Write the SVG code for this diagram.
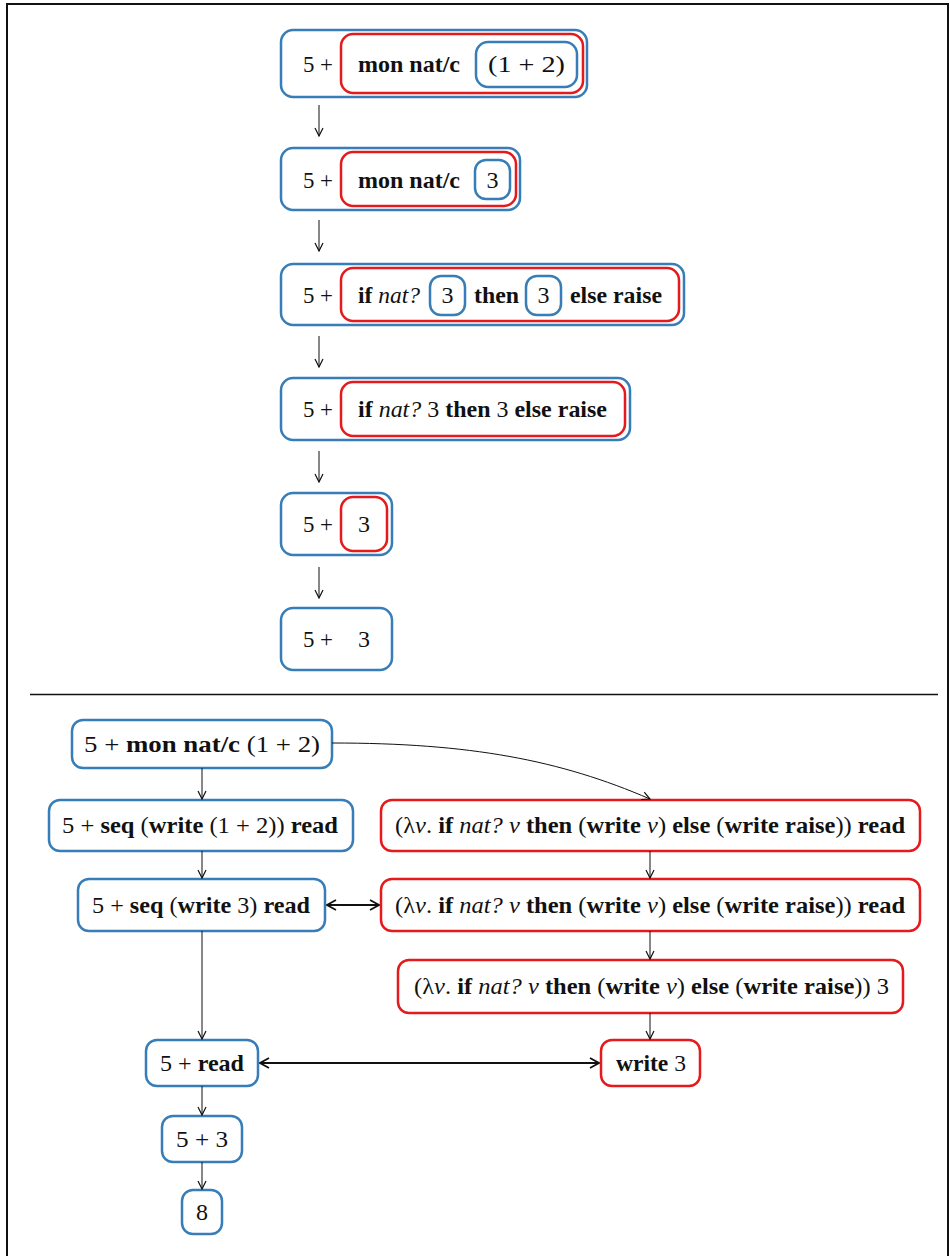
<svg xmlns="http://www.w3.org/2000/svg" width="950" height="1256" viewBox="0 0 950 1256">
<style>
.t{font-size:24px;fill:#111;}
.b{font-weight:bold;}
.i{font-style:italic;}
.bl{fill:none;stroke:#377eb8;stroke-width:2.5;}
.rd{fill:none;stroke:#e41a1c;stroke-width:2.5;}
.c{fill:none;stroke:#111;stroke-width:1;}
.c2{fill:none;stroke:#111;stroke-width:2;}
.frame{fill:none;stroke:#111;stroke-width:2;}
</style>
<defs>
<marker id="ah" viewBox="0 0 10 10" refX="9" refY="5" markerWidth="10" markerHeight="10" markerUnits="userSpaceOnUse" orient="auto-start-reverse">
<path d="M1,1 L9,5 L1,9" fill="none" stroke="#111" stroke-width="1.2"/>
</marker>
<marker id="ah2" viewBox="0 0 12 12" refX="11" refY="6" markerWidth="12" markerHeight="12" markerUnits="userSpaceOnUse" orient="auto-start-reverse">
<path d="M2,1 L11,6 L2,11" fill="none" stroke="#111" stroke-width="1.8"/>
</marker>
</defs>
<rect x="7" y="4" width="941" height="1260" class="frame"/>
<line x1="30" y1="694.5" x2="938" y2="694.5" stroke="#111" stroke-width="1.5"/>

<g font-family="Liberation Serif, Tinos, Times New Roman, Times, DejaVu Serif, serif">
<!-- top section -->
<g id="s1">
<rect x="281" y="30" width="306" height="67" rx="12" class="bl"/>
<rect x="341" y="34" width="242" height="59" rx="12" class="rd"/>
<rect x="476" y="42" width="101" height="45" rx="12" class="bl"/>
<text x="303" y="72" class="t" textLength="30" lengthAdjust="spacingAndGlyphs">5 +</text>
<text x="358" y="72" class="t b" textLength="102" lengthAdjust="spacingAndGlyphs">mon nat/c</text>
<text x="488" y="72" class="t" textLength="77" lengthAdjust="spacingAndGlyphs">(1 + 2)</text>
</g>
<g id="s2">
<rect x="281" y="148" width="239" height="62" rx="12" class="bl"/>
<rect x="341" y="152" width="175" height="54" rx="12" class="rd"/>
<rect x="475" y="160" width="35" height="39" rx="11" class="bl"/>
<text x="303" y="188" class="t" textLength="30" lengthAdjust="spacingAndGlyphs">5 +</text>
<text x="358" y="188" class="t b" textLength="102" lengthAdjust="spacingAndGlyphs">mon nat/c</text>
<text x="492.5" y="188" class="t" text-anchor="middle">3</text>
</g>
<g id="s3">
<rect x="281" y="264" width="403" height="61" rx="12" class="bl"/>
<rect x="341" y="268" width="338" height="53" rx="12" class="rd"/>
<rect x="430" y="276" width="35" height="39" rx="11" class="bl"/>
<rect x="526" y="276" width="35" height="39" rx="11" class="bl"/>
<text x="303" y="303" class="t" textLength="30" lengthAdjust="spacingAndGlyphs">5 +</text>
<text x="358" y="303" class="t" textLength="62" lengthAdjust="spacingAndGlyphs"><tspan class="b">if</tspan> <tspan class="i">nat?</tspan></text>
<text x="447.5" y="303" class="t" text-anchor="middle">3</text>
<text x="474" y="303" class="t b" textLength="45" lengthAdjust="spacingAndGlyphs">then</text>
<text x="543.5" y="303" class="t" text-anchor="middle">3</text>
<text x="570" y="303" class="t b" textLength="92" lengthAdjust="spacingAndGlyphs">else raise</text>
</g>
<g id="s4">
<rect x="281" y="378" width="349" height="62" rx="12" class="bl"/>
<rect x="341" y="382" width="284" height="54" rx="12" class="rd"/>
<text x="303" y="417" class="t" textLength="30" lengthAdjust="spacingAndGlyphs">5 +</text>
<text x="358" y="417" class="t" textLength="249" lengthAdjust="spacingAndGlyphs"><tspan class="b">if</tspan> <tspan class="i">nat?</tspan> 3 <tspan class="b">then</tspan> 3 <tspan class="b">else raise</tspan></text>
</g>
<g id="s5">
<rect x="281" y="493" width="111" height="62" rx="12" class="bl"/>
<rect x="341" y="497" width="46" height="54" rx="12" class="rd"/>
<text x="303" y="532" class="t" textLength="30" lengthAdjust="spacingAndGlyphs">5 +</text>
<text x="364" y="532" class="t" text-anchor="middle">3</text>
</g>
<g id="s6">
<rect x="281" y="608" width="111" height="62" rx="12" class="bl"/>
<text x="303" y="647" class="t" textLength="30" lengthAdjust="spacingAndGlyphs">5 +</text>
<text x="364" y="647" class="t" text-anchor="middle">3</text>
</g>

<!-- bottom section -->
<g id="b1">
<rect x="72" y="720" width="260" height="48" rx="11" class="bl"/>
<text x="84" y="752" class="t" textLength="236" lengthAdjust="spacingAndGlyphs">5 + <tspan class="b">mon nat/c</tspan> (1 + 2)</text>
</g>
<g id="b2">
<rect x="49" y="800" width="304" height="51" rx="11" class="bl"/>
<text x="62" y="833" class="t" textLength="276" lengthAdjust="spacingAndGlyphs">5 + <tspan class="b">seq</tspan> (<tspan class="b">write</tspan> (1 + 2)) <tspan class="b">read</tspan></text>
</g>
<g id="b3">
<rect x="381" y="800" width="539" height="51" rx="11" class="rd"/>
<text x="395" y="833" class="t" textLength="510" lengthAdjust="spacingAndGlyphs">(λ<tspan class="i">v</tspan>. <tspan class="b">if</tspan> <tspan class="i">nat? v</tspan> <tspan class="b">then</tspan> (<tspan class="b">write</tspan> <tspan class="i">v</tspan>) <tspan class="b">else</tspan> (<tspan class="b">write raise</tspan>)) <tspan class="b">read</tspan></text>
</g>
<g id="b4">
<rect x="78" y="879" width="247" height="52" rx="11" class="bl"/>
<text x="92" y="913" class="t" textLength="218" lengthAdjust="spacingAndGlyphs">5 + <tspan class="b">seq</tspan> (<tspan class="b">write</tspan> 3) <tspan class="b">read</tspan></text>
</g>
<g id="b5">
<rect x="381" y="879" width="539" height="52" rx="11" class="rd"/>
<text x="395" y="913" class="t" textLength="510" lengthAdjust="spacingAndGlyphs">(λ<tspan class="i">v</tspan>. <tspan class="b">if</tspan> <tspan class="i">nat? v</tspan> <tspan class="b">then</tspan> (<tspan class="b">write</tspan> <tspan class="i">v</tspan>) <tspan class="b">else</tspan> (<tspan class="b">write raise</tspan>)) <tspan class="b">read</tspan></text>
</g>
<g id="b6">
<rect x="398" y="960" width="505" height="53" rx="11" class="rd"/>
<text x="414" y="994" class="t" textLength="475" lengthAdjust="spacingAndGlyphs">(λ<tspan class="i">v</tspan>. <tspan class="b">if</tspan> <tspan class="i">nat? v</tspan> <tspan class="b">then</tspan> (<tspan class="b">write</tspan> <tspan class="i">v</tspan>) <tspan class="b">else</tspan> (<tspan class="b">write raise</tspan>)) 3</text>
</g>
<g id="b7">
<rect x="146" y="1040" width="112" height="46" rx="11" class="bl"/>
<text x="160" y="1071" class="t" textLength="84" lengthAdjust="spacingAndGlyphs">5 + <tspan class="b">read</tspan></text>
</g>
<g id="b8">
<rect x="601" y="1040" width="99" height="46" rx="11" class="rd"/>
<text x="616" y="1071" class="t" textLength="70" lengthAdjust="spacingAndGlyphs"><tspan class="b">write</tspan> 3</text>
</g>
<g id="b9">
<rect x="162" y="1116" width="80" height="46" rx="11" class="bl"/>
<text x="176" y="1147" class="t" textLength="52" lengthAdjust="spacingAndGlyphs">5 + 3</text>
</g>
<g id="b10">
<rect x="182" y="1190" width="40" height="44" rx="11" class="bl"/>
<text x="202" y="1220" class="t" text-anchor="middle">8</text>
</g>
</g>

<g id="connectors">
<line x1="319" y1="105" x2="319" y2="136" class="c" marker-end="url(#ah)"/>
<line x1="319" y1="220" x2="319" y2="251" class="c" marker-end="url(#ah)"/>
<line x1="319" y1="336" x2="319" y2="367" class="c" marker-end="url(#ah)"/>
<line x1="319" y1="451" x2="319" y2="482" class="c" marker-end="url(#ah)"/>
<line x1="319" y1="567" x2="319" y2="598" class="c" marker-end="url(#ah)"/>
<line x1="202" y1="768" x2="202" y2="799" class="c" marker-end="url(#ah)"/>
<path d="M332,743 C470,743 560,760 650,799" class="c" marker-end="url(#ah)"/>
<line x1="202" y1="851" x2="202" y2="878" class="c" marker-end="url(#ah)"/>
<line x1="650" y1="851" x2="650" y2="878" class="c" marker-end="url(#ah)"/>
<line x1="327" y1="905" x2="379" y2="905" class="c2" marker-start="url(#ah2)" marker-end="url(#ah2)"/>
<line x1="202" y1="931" x2="202" y2="1039" class="c" marker-end="url(#ah)"/>
<line x1="650" y1="931" x2="650" y2="959" class="c" marker-end="url(#ah)"/>
<line x1="650" y1="1013" x2="650" y2="1039" class="c" marker-end="url(#ah)"/>
<line x1="260" y1="1063" x2="599" y2="1063" class="c2" marker-start="url(#ah2)" marker-end="url(#ah2)"/>
<line x1="202" y1="1086" x2="202" y2="1115" class="c" marker-end="url(#ah)"/>
<line x1="202" y1="1162" x2="202" y2="1189" class="c" marker-end="url(#ah)"/>
</g>
</svg>
